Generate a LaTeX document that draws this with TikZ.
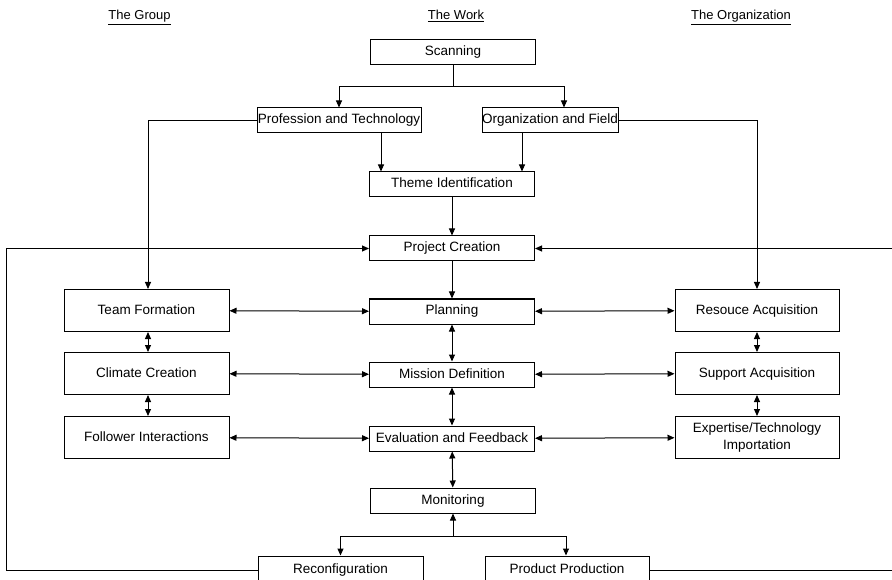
\documentclass[tikz,border=0pt]{standalone}
\usepackage{fontspec}
\setmainfont{Liberation Sans}
\usetikzlibrary{arrows.meta,calc}
\begin{document}
\begin{tikzpicture}[x=1pt,y=-1pt,
  box/.style={draw,line width=1pt,fill=white,minimum width=165pt,minimum height=25pt,inner sep=0pt,text height=9.8pt,text depth=2.8pt,font=\fontsize{13.5}{15}\selectfont,align=center},
  sidebox/.style={box,minimum height=42pt},
  conn/.style={line width=1pt},
  arr/.style={conn,-{Triangle[length=7pt,width=6pt]}},
  darr/.style={conn,{Triangle[length=7pt,width=6pt]}-{Triangle[length=7pt,width=6pt]}},
  head/.style={font=\fontsize{13}{15}\selectfont,inner sep=0pt,anchor=base}]
\useasboundingbox (0,0) rectangle (892,580);

% headers
\node[head] (hg) at (139.5,20) {\underline{The Group}};
\node[head] (hw) at (456,20) {\underline{The Work}};
\node[head] (ho) at (741,20) {\underline{The Organization}};

% centre column
\node[box] (scan) at (453,52.5) {Scanning};
\node[box,minimum width=164pt] (prof) at (339,120.5) {Profession and Technology};
\node[box,minimum width=136pt] (org) at (550,120.5) {Organization and Field};
\node[box] (theme) at (452,184.5) {Theme Identification};
\node[box] (proj) at (452,248.5) {Project Creation};
\node[box] (plan) at (452,311.5) {Planning};
\node[box] (miss) at (452,374.5) {Mission Definition};
\node[box] (eval) at (452,438.5) {Evaluation and Feedback};
\node[box] (mon) at (453,500.5) {Monitoring};
\node[box,minimum height=28pt] (reconf) at (340.5,570) {Reconfiguration};
\node[box,minimum height=28pt,minimum width=164pt] (prod) at (567,570) {Product Production};

% left column
\node[sidebox] (team) at (146.5,310.5) {Team Formation};
\node[sidebox] (clim) at (146.5,373.5) {Climate Creation};
\node[sidebox] (foll) at (146.5,437.5) {Follower Interactions};

% right column
\node[sidebox,minimum width=164pt] (res) at (757,310.5) {Resouce Acquisition};
\node[sidebox,minimum width=164pt] (sup) at (757,373.5) {Support Acquisition};
\node[sidebox,minimum width=164pt,text height=,text depth=] (exp) at (757,437.5) {Expertise/Technology\\[1.5pt]Importation};

% loop corners
\coordinate (sj) at (453,87);
\coordinate (mj) at (453,536);
\coordinate (lb) at (6,570);
\coordinate (lt) at (6,248.5);
\coordinate (rb) at (897,570);
\coordinate (rt) at (897,248.5);

% scanning split
\draw[conn] (scan.south) -- (sj);
\draw[arr] (sj) -| (prof.north);
\draw[arr] (sj) -| (org.north -| 564,0);

% into theme
\draw[arr] (prof.south -| 381,0) -- (theme.north -| 381,0);
\draw[arr] (org.south -| 522,0) -- (theme.north -| 522,0);
\draw[arr] (theme) -- (proj);

% feeders to side columns
\draw[arr] (prof.west) -| (team.north -| 148,0);
\draw[arr] (org.east) -| (res.north);

% centre chain
\draw[arr] (proj) -- (plan);
\draw[darr] (plan) -- (miss);
\draw[darr] (miss) -- (eval);
\draw[darr] (eval) -- (mon);

% side chains
\draw[darr] (team.south -| 148,0) -- (clim.north -| 148,0);
\draw[darr] (clim.south -| 148,0) -- (foll.north -| 148,0);
\draw[darr] (res) -- (sup);
\draw[darr] (sup) -- (exp);

% horizontal links
\draw[darr] (team) -- (plan);
\draw[darr] (clim) -- (miss);
\draw[darr] (foll) -- (eval);
\draw[darr] (plan) -- (res);
\draw[darr] (miss) -- (sup);
\draw[darr] (eval) -- (exp);

% monitoring split
\draw[arr] (mj) -- (mon.south);
\draw[arr] (mj) -| (reconf.north);
\draw[arr] (mj) -| (prod.north -| 566,0);

% feedback loops
\draw[arr] (reconf.west) -- (lb) -- (lt) -- (proj.west);
\draw[arr] (prod.east) -- (rb) -- (rt) -- (proj.east);
\end{tikzpicture}
\end{document}
